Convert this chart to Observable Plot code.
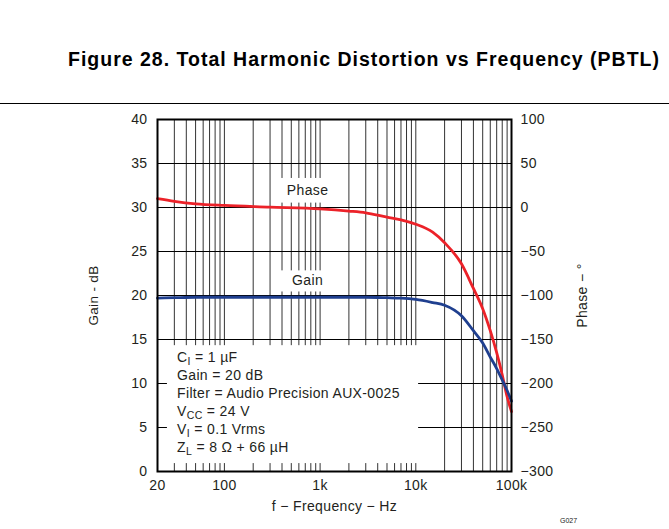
<!DOCTYPE html>
<html><head><meta charset="utf-8">
<script src="https://cdn.jsdelivr.net/npm/d3@7"></script>
<script src="https://cdn.jsdelivr.net/npm/@observablehq/plot@0.6"></script>
<style>
body{margin:0;background:#fff;font-family:"Liberation Sans",Arial,sans-serif;}
#wrap{position:relative;width:669px;height:529px;overflow:hidden;background:#fff}
#title{position:absolute;left:68px;top:48px;white-space:nowrap;font-weight:bold;font-size:19.5px;letter-spacing:1px;color:#000}
#rule{position:absolute;left:0;top:103px;width:669px;height:0;border-top:1.3px solid #000}
#chart{position:absolute;left:0;top:105px}
#chart svg text{letter-spacing:0.35px}
#code{position:absolute;left:560px;top:517px;font-size:7px;color:#222}
</style></head>
<body><div id="wrap">
<div id="title">Figure 28. Total Harmonic Distortion vs Frequency (PBTL)</div>
<div id="rule"></div>
<div id="chart"></div>
<div id="code">G027</div>
</div>
<script>
// Gain (dB) vs frequency (Hz)
const gainFreq = [20,30,50,100,300,1000,3000,5000,7000,10000,15000,20000,30000,40000,50000,60000,70000,80000,90000,100000];
const gainDb   = [19.7,19.75,19.8,19.8,19.8,19.8,19.8,19.75,19.7,19.55,19.2,18.9,17.7,16.0,14.6,13.0,11.7,10.4,9.2,8.0];
// Phase (degrees) vs frequency (Hz)
const phaseFreq = [20,30,50,100,300,1000,2000,3000,5000,7000,10000,15000,20000,30000,40000,50000,60000,70000,80000,90000,100000];
const phaseDeg  = [10,7,4.2,2.3,0.5,-1.5,-4,-6,-11,-14,-19,-28,-40,-64,-92,-115,-140,-165,-190,-215,-232];
// axes
const xTicks = [20,100,1000,10000,100000];
const xTickLabels = ["20","100","1k","10k","100k"];
const xGrid = [30,40,50,60,70,80,90,100,200,300,400,500,600,700,800,900,1000,2000,3000,4000,5000,6000,7000,8000,9000,10000,20000,30000,40000,50000,60000,70000,80000,90000];
const gainTicks = [0,5,10,15,20,25,30,35,40];
const phaseTicks = [-300,-250,-200,-150,-100,-50,0,50,100];
const notes = ["C_I = 1 µF","Gain = 20 dB","Filter = Audio Precision AUX-0025","V_CC = 24 V","V_I = 0.1 Vrms","Z_L = 8 Ω + 66 µH"];

const gain = gainFreq.map((f,i)=>({f, v: gainDb[i]}));
const phase = phaseFreq.map((f,i)=>({f, v: phaseDeg[i]}));
// phase axis (-300..100) shares the plot with gain axis (0..40)
const ph2g = p => (p + 300) / 10;
const fmt = v => v < 0 ? "\u2212" + Math.abs(v) : String(v);
const RED = "#ec2229", BLUE = "#1f3f8f", TXT = "#231f20";

const plot = Plot.plot({
  width: 669, height: 424,
  marginTop: 14, marginBottom: 58, marginLeft: 157, marginRight: 158,
  style: {fontFamily: "Liberation Sans, Arial, sans-serif", fontSize: "14px", color: TXT, background: "white"},
  x: {type: "log", domain: [20, 100000]},
  y: {domain: [0, 40]},
  marks: [
    Plot.ruleX(xGrid, {stroke: "#333", strokeWidth: 1}),
    Plot.ruleY(gainTicks.slice(1, -1), {stroke: "#000", strokeWidth: 1}),
    // white label backgrounds
    Plot.rect([{}], {x1: 25.4, x2: 10700, y1: 0.9, y2: 14.3, fill: "white"}),
    Plot.rect([{}], {x1: 345, x2: 1130, y1: 30.5, y2: 33.3, fill: "white"}),
    Plot.rect([{}], {x1: 345, x2: 1130, y1: 20.4, y2: 22.8, fill: "white"}),
    Plot.text(["Phase"], {x: 740, y: 31.9, fill: TXT, fontSize: 14}),
    Plot.text(["Gain"], {x: 740, y: 21.7, fill: TXT, fontSize: 14}),
    Plot.text(notes, {x: 32, y: (d, i) => 13 - i * 2.05, textAnchor: "start", fill: TXT, fontSize: 14, className: "note"}),
    Plot.line(phase, {x: "f", y: d => ph2g(d.v), stroke: RED, strokeWidth: 2.8, curve: "monotone-x"}),
    Plot.line(gain, {x: "f", y: "v", stroke: BLUE, strokeWidth: 2.8, curve: "monotone-x"}),
    Plot.frame({stroke: "#000", strokeWidth: 2}),
    Plot.axisY({anchor: "left", ticks: gainTicks, tickSize: 0, tickPadding: 10, label: null, fill: TXT, fontSize: 14}),
    Plot.axisY({anchor: "right", ticks: phaseTicks.map(ph2g), tickFormat: g => fmt(Math.round(g * 10 - 300)), tickSize: 0, tickPadding: 9, label: null, fill: TXT, fontSize: 14}),
    Plot.axisX({ticks: xTicks, tickFormat: d => xTickLabels[xTicks.indexOf(d)], tickSize: 0, tickPadding: 9, label: null, fill: TXT, fontSize: 14}),
    Plot.text(["f \u2212 Frequency \u2212 Hz"], {frameAnchor: "bottom", dy: 39, fill: TXT, fontSize: 14}),
    Plot.text(["Gain - dB"], {frameAnchor: "left", textAnchor: "middle", dx: -64, rotate: -90, fill: TXT, fontSize: 13.5}),
    Plot.text(["Phase \u2212 \u00b0"], {frameAnchor: "right", textAnchor: "middle", dx: 71, rotate: -90, fill: TXT, fontSize: 14})
  ]
});
document.getElementById("chart").appendChild(plot);
// subscripts in the conditions block
plot.querySelectorAll("g.note text, .note text").forEach(t => {
  const m = t.textContent.match(/^(\w)_(\w+)(.*)$/);
  if (!m) return;
  t.textContent = "";
  const ns = "http://www.w3.org/2000/svg";
  const a = document.createElementNS(ns, "tspan"); a.textContent = m[1];
  const b = document.createElementNS(ns, "tspan"); b.textContent = m[2]; b.setAttribute("dy", "3"); b.setAttribute("font-size", "10.5");
  const c = document.createElementNS(ns, "tspan"); c.textContent = m[3]; c.setAttribute("dy", "-3");
  t.append(a, b, c);
});
</script>
</body></html>
